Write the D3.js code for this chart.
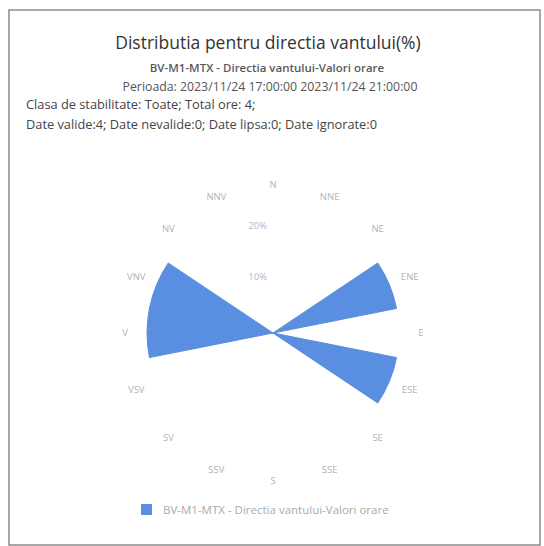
<!DOCTYPE html>
<html>
<head>
<meta charset="utf-8">
<script src="https://cdn.jsdelivr.net/npm/d3@7"></script>
<style>
  html, body { margin: 0; padding: 0; background: #fff; }
  svg { display: block; font-family: "Open Sans", "Noto Sans", sans-serif; }
</style>
</head>
<body>
<svg id="chart" width="544" height="546"></svg>
<script>
// ---- data ----
const directions = ["N","NNE","NE","ENE","E","ESE","SE","SSE","S","SSV","SV","VSV","V","VNV","NV","NNV"];
const values = [0,0,0,25,0,25,0,0,0,0,0,0,25,25,0,0];
const radialTicks = [10, 20];
const radialTickLabels = ["10%", "20%"];
const seriesName = "BV-M1-MTX - Directia vantului-Valori orare";
const titleText = "Distributia pentru directia vantului(%)";
const subtitleLines = [
  "BV-M1-MTX - Directia vantului-Valori orare",
  "Perioada: 2023/11/24 17:00:00 2023/11/24 21:00:00"
];
const infoLines = [
  "Clasa de stabilitate: Toate; Total ore: 4;",
  "Date valide:4; Date nevalide:0; Date lipsa:0; Date ignorate:0"
];

// ---- layout ----
const svg = d3.select("#chart");
const cx = 273, cy = 333;
const rMax = 126;
const yMax = 25;

// frame
svg.append("rect")
  .attr("x", 9).attr("y", 10).attr("width", 531).attr("height", 535)
  .attr("fill", "none").attr("stroke", "#7a7a7a").attr("stroke-width", 1.3);

// titles
svg.append("text").attr("x", 268).attr("y", 49)
  .attr("text-anchor", "middle").attr("font-size", 17.5).attr("fill", "#333")
  .text(titleText);
svg.append("text").attr("x", 267).attr("y", 72)
  .attr("text-anchor", "middle").attr("font-size", 11.5).attr("font-weight", 600).attr("fill", "#5a5a5a")
  .text(subtitleLines[0]);
svg.append("text").attr("x", 270).attr("y", 91)
  .attr("text-anchor", "middle").attr("font-size", 12.3).attr("fill", "#555")
  .text(subtitleLines[1]);
infoLines.forEach((t, i) => {
  svg.append("text").attr("x", 26).attr("y", 109 + i * 20)
    .attr("font-size", 12.8).attr("fill", "#444")
    .text(t);
});

// scales
const r = d3.scaleLinear().domain([0, yMax]).range([0, rMax]);
const angle = d3.scaleBand().domain(directions).range([0, 2 * Math.PI]);

const g = svg.append("g").attr("transform", `translate(${cx},${cy})`);

// radial tick labels
radialTicks.forEach((t, i) => {
  g.append("text")
    .attr("x", -6).attr("y", -r(t) - 3)
    .attr("text-anchor", "end")
    .attr("font-size", 9.5).attr("fill", "#b8b8b8")
    .text(radialTickLabels[i]);
});

// sectors
const arc = d3.arc()
  .innerRadius(0)
  .outerRadius(d => r(d.v))
  .startAngle(d => angle(d.dir) - angle.bandwidth() / 2)
  .endAngle(d => angle(d.dir) + angle.bandwidth() / 2);

g.selectAll("path.sector")
  .data(directions.map((dir, i) => ({ dir, v: values[i] })).filter(d => d.v > 0))
  .join("path")
  .attr("class", "sector")
  .attr("d", arc)
  .attr("fill", "#5a8ee0")
  .attr("stroke", "#5a8ee0")
  .attr("stroke-width", 1)
  .attr("stroke-linejoin", "round");

// direction labels
const labelR = 148;
g.selectAll("text.dir")
  .data(directions)
  .join("text")
  .attr("class", "dir")
  .attr("x", d => labelR * Math.sin(angle(d)))
  .attr("y", d => -labelR * Math.cos(angle(d)))
  .attr("dy", "0.35em")
  .attr("text-anchor", "middle")
  .attr("font-size", 9.5)
  .attr("fill", "#b3b3b3")
  .text(d => d);

// legend
svg.append("rect")
  .attr("x", 141).attr("y", 504).attr("width", 11).attr("height", 11)
  .attr("fill", "#5a8ee0");
svg.append("text").attr("x", 163).attr("y", 514)
  .attr("font-size", 11.5).attr("fill", "#aaa")
  .text(seriesName);
</script>
</body>
</html>
